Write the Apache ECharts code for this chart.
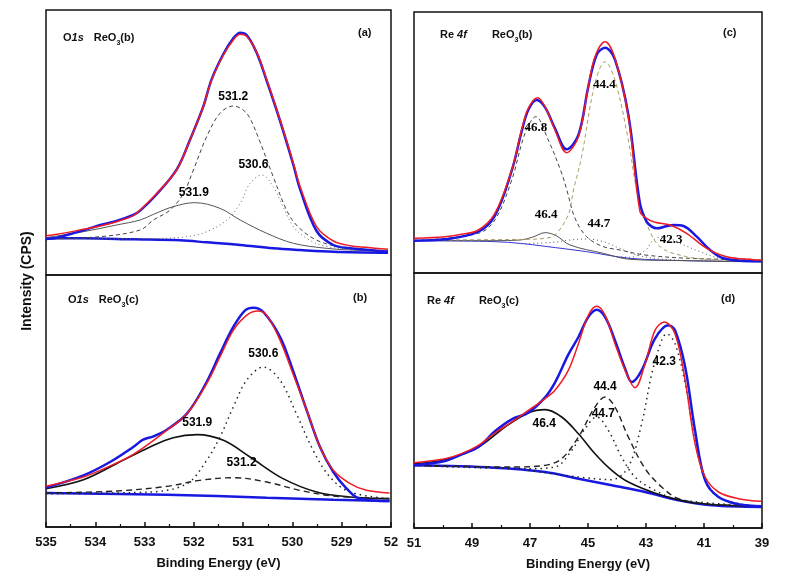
<!DOCTYPE html>
<html><head><meta charset="utf-8">
<script src="https://cdn.jsdelivr.net/npm/echarts@6/dist/echarts.min.js"></script>
<style>html,body{margin:0;padding:0;background:#fff}#c{width:794px;height:588px}</style>
</head><body><div id="c"></div>
<script>
// ---------- tick labels ----------
const oTicks = [535, 534, 533, 532, 531, 530, 529, 528];
const oTickLabels = ['535', '534', '533', '532', '531', '530', '529', '52'];
const reTicks = [51, 49, 47, 45, 43, 41, 39];
const reTickLabels = ['51', '49', '47', '45', '43', '41', '39'];

// ---------- panel (a) O1s ReO3(b)  [binding energy, intensity a.u.] ----------
const aData = [[535,108],[534.78,112],[534.58,120],[534.24,134],[533.9,150],[533.57,162],[533.23,180],[533.09,193],[532.75,243],[532.35,316],[532.08,405],[531.81,505],[531.64,587],[531.4,663],[531.2,710],[531.06,727],[530.93,720],[530.73,668],[530.52,582],[530.25,462],[529.98,330],[529.85,260],[529.51,132],[529.17,90],[528.83,80],[528.5,76],[528.06,70]];
const aFit = [[535,118],[534.78,122],[534.24,137],[533.9,147],[533.57,160],[533.23,178],[533.09,195],[532.75,245],[532.35,315],[532.08,405],[531.81,505],[531.64,585],[531.4,660],[531.2,705],[531.06,722],[530.93,716],[530.73,670],[530.52,585],[530.25,465],[529.98,335],[529.85,268],[529.51,145],[529.17,102],[528.83,88],[528.5,83],[528.06,77]];
const aBase = [[535,110],[534.24,110],[533.23,107],[532.28,104],[531.74,98],[531.06,90],[530.39,80],[529.85,75],[529.17,70],[528.06,67]];
const aP5319 = [[535,112],[534.24,130],[533.57,150],[533.09,165],[532.82,182],[532.42,205],[531.98,217],[531.47,200],[531.06,165],[530.52,125],[529.98,95],[529.31,80],[528.83,75],[528.06,71]];
const aP5312 = [[535,108],[533.9,115],[533.09,135],[532.82,165],[532.48,195],[532.21,245],[532.01,315],[531.74,415],[531.47,485],[531.2,507],[531.0,495],[530.86,470],[530.66,400],[530.39,295],[530.12,195],[529.92,150],[529.58,110],[529.17,88],[528.5,75],[528.06,72]];
const aP5306 = [[535,108],[532.89,109],[532.15,115],[531.74,130],[531.33,165],[531.06,215],[530.86,275],[530.62,300],[530.39,265],[530.19,205],[529.98,145],[529.71,110],[529.38,88],[528.83,77],[528.06,73]];
const aLabels = [['531.2',531.2,535],['530.6',530.79,330],['531.9',532.0,247]];

// ---------- panel (b) O1s ReO3(c) ----------
const bData = [[535,118],[534.24,155],[533.7,195],[533.23,240],[533.03,262],[532.82,272],[532.55,292],[532.14,340],[531.74,435],[531.47,520],[531.2,600],[530.96,650],[530.79,658],[530.59,645],[530.25,570],[529.99,470],[529.71,350],[529.44,240],[529.17,165],[528.9,115],[528.64,85],[528.03,78]];
const bFit = [[535,122],[534.24,150],[533.9,170],[533.23,218],[532.55,290],[532.14,340],[531.74,430],[531.47,510],[531.2,590],[530.93,635],[530.7,648],[530.52,635],[530.25,560],[529.99,460],[529.71,350],[529.44,240],[529.17,170],[528.83,130],[528.5,110],[528.03,102]];
const bBase = [[535,102],[532.55,97],[530.52,88],[529.17,82],[528.03,78]];
const bP5319 = [[535,115],[534.24,142],[533.57,190],[532.89,240],[532.42,268],[531.93,277],[531.4,260],[530.86,210],[530.19,145],[529.51,105],[528.83,90],[528.03,85]];
const bP5312 = [[535,102],[533.57,108],[532.55,122],[531.88,140],[531.2,148],[530.52,135],[529.85,110],[529.17,93],[528.03,85]];
const bP5306 = [[535,100],[532.89,105],[532.14,130],[531.74,200],[531.47,270],[531.2,360],[530.93,440],[530.59,480],[530.25,440],[529.92,340],[529.58,230],[529.24,150],[528.83,105],[528.03,85]];
const bLabels = [['530.6',530.59,520],['531.9',531.93,313],['531.2',531.03,193]];

// ---------- panel (c) Re 4f ReO3(b) ----------
const cData = [[51,97],[49.93,101],[48.78,124],[48.21,172],[47.63,307],[47.29,424],[47.06,489],[46.77,519],[46.48,497],[46.14,434],[45.74,371],[45.33,414],[44.99,559],[44.7,655],[44.41,676],[44.07,640],[43.61,475],[43.21,209],[42.98,154],[42.8,139],[42.63,134],[42.3,140],[42.05,144],[41.71,141],[41.25,109],[40.79,69],[40.33,44],[39.3,35],[39.0,35]];
const cFit = [[51,104],[49.93,109],[49.36,116],[48.78,129],[48.21,179],[47.63,309],[47.29,429],[47.06,494],[46.74,526],[46.48,499],[46.14,429],[45.74,361],[45.33,409],[44.99,559],[44.76,649],[44.41,694],[44.07,644],[43.61,469],[43.21,185],[42.98,164],[42.69,152],[42.17,144],[41.6,119],[40.91,74],[40.22,49],[39.3,40],[39.0,39]];
const cBase = [[51,97],[49.36,96],[48.21,94],[47.34,89],[46.48,80],[45.05,64],[43.55,44],[41.6,37],[39.3,34],[39,34]];
const cP468 = [[51,97],[48.78,119],[48.21,159],[47.63,279],[47.17,419],[46.8,469],[46.37,399],[45.91,300],[45.73,249],[45.45,165],[45.05,109],[44.5,80],[43.9,69],[43.03,54],[41.5,44],[39,39]];
const cP444 = [[51,99],[47.06,101],[46.5,104],[46.14,114],[45.68,175],[45.5,249],[45.22,349],[44.76,569],[44.41,634],[44.07,579],[43.61,399],[43.32,249],[42.98,149],[42.52,79],[41.6,49],[40.45,39],[39,37]];
const cP464 = [[51,97],[48.21,97],[47.34,99],[46.9,108],[46.48,121],[46.1,112],[45.62,84],[44.47,59],[43.55,41],[41.6,37],[39,34]];
const cP447 = [[47.3,88],[46.2,92],[45.62,99],[45.05,102],[44.47,94],[43.9,74],[43.32,54],[42.5,42],[41,36],[39,34]];
const cP423 = [[44.0,50],[43.55,47],[43.0,70],[42.75,99],[42.4,109],[41.83,89],[41.14,64],[40.45,44],[39.5,37],[39,36]];
const cLabels = [['44.4',44.43,566],['46.8',46.8,436],['46.4',46.44,174],['44.7',44.62,149],['42.3',42.13,99]];

// ---------- panel (d) Re 4f ReO3(c) ----------
const dData = [[51,188],[49.93,201],[49.36,221],[48.78,243],[48.21,290],[47.63,326],[47.06,346],[46.48,392],[46.14,436],[45.68,520],[45.33,573],[44.99,633],[44.7,655],[44.41,633],[44.07,563],[43.72,478],[43.49,438],[43.15,473],[42.69,568],[42.23,608],[42.0,593],[41.65,483],[41.31,293],[40.96,143],[40.5,93],[39.81,71],[39.01,65]];
const dFit = [[51,196],[49.93,208],[49.36,223],[48.78,248],[48.21,285],[47.63,318],[47.06,353],[46.48,388],[46.14,413],[45.68,473],[45.33,553],[44.99,638],[44.7,665],[44.41,638],[44.07,553],[43.72,473],[43.38,421],[43.03,493],[42.69,593],[42.37,618],[42.0,583],[41.65,443],[41.31,253],[40.96,153],[40.5,108],[39.81,88],[39.01,80]];
const dBase = [[51,188],[48.21,181],[46.48,168],[45.33,148],[44.18,128],[43.03,108],[41.88,83],[40.74,68],[39,63]];
const dP464 = [[51,193],[49.93,205],[48.78,243],[47.86,303],[47.06,345],[46.48,355],[45.91,333],[45.33,283],[44.76,223],[44.18,173],[43.61,138],[42.46,98],[41.31,75],[39,65]];
const dP444 = [[51,188],[47.63,183],[46.48,188],[45.91,208],[45.33,273],[44.76,363],[44.41,393],[44.07,363],[43.61,273],[43.03,178],[42.46,123],[41.88,88],[40.74,71],[39,65]];
const dP447 = [[51,188],[47.06,178],[46.14,183],[45.56,233],[45.1,298],[44.7,333],[44.3,293],[43.84,213],[43.38,153],[42.69,113],[41.88,85],[39,65]];
const dP423 = [[47.06,173],[45.33,153],[44.18,145],[43.61,183],[43.15,313],[42.8,463],[42.46,563],[42.29,583],[42.0,553],[41.65,433],[41.31,263],[40.96,143],[40.5,93],[39.81,73],[39,65]];
const dLabels = [['44.4',44.41,423],['44.7',44.47,343],['42.3',42.37,498],['46.4',46.51,313]];

// ---------- chart ----------
const RED = '#ee1c25', BLUE = '#1818e0';
const SANS = 'Liberation Sans, Arial, sans-serif';
const SERIF = 'Liberation Serif, Times New Roman, serif';

function line(idx, data, color, width, type, z) {
  return { type: 'line', xAxisIndex: idx, yAxisIndex: idx, data: data, smooth: 0.35,
    showSymbol: false, silent: true, z: z || 2,
    lineStyle: { color: color, width: width, type: type || 'solid' } };
}
function labels(idx, arr, font, size) {
  return { type: 'scatter', xAxisIndex: idx, yAxisIndex: idx, symbolSize: 0.1, silent: true, z: 10,
    itemStyle: { color: '#fff', opacity: 1 },
    data: arr.map(l => ({ name: l[0], value: [l[1], l[2]] })),
    label: { show: true, position: [0, 0], align: 'center', verticalAlign: 'middle', formatter: '{b}',
      color: '#000', textBorderWidth: 0, opacity: 1,
      fontWeight: 'bold', fontFamily: font, fontSize: size } };
}

const grids = [
  { left: 46, top: 10, width: 345, height: 265 },
  { left: 46, top: 275, width: 345, height: 252 },
  { left: 414, top: 12, width: 348, height: 261 },
  { left: 414, top: 273, width: 348, height: 255 }
].map(g => Object.assign(g, { show: true, borderColor: '#111', borderWidth: 1.5, backgroundColor: 'transparent' }));

function hiddenX(gi, min, max) {
  return { type: 'value', gridIndex: gi, min: min, max: max, inverse: true,
    axisLine: { show: false }, axisTick: { show: false }, axisLabel: { show: false }, splitLine: { show: false } };
}
function shownX(gi, min, max, interval, ticks, tickLabels) {
  return { type: 'value', gridIndex: gi, min: min, max: max, interval: interval, inverse: true,
    name: 'Binding Energy (eV)', nameLocation: 'middle', nameGap: 30,
    nameTextStyle: { fontFamily: SANS, fontWeight: 'bold', fontSize: 13, color: '#111' },
    axisLine: { show: true, onZero: false, lineStyle: { color: '#111', width: 1.5 } },
    axisTick: { show: true, inside: true, length: 5, lineStyle: { color: '#111', width: 1.5 } },
    minorTick: { show: true, splitNumber: 2, length: 3, lineStyle: { color: '#111', width: 1.2 } },
    axisLabel: { margin: 9, fontFamily: SANS, fontWeight: 'bold', fontSize: 13, color: '#111',
      formatter: v => { const i = ticks.indexOf(Math.round(v)); return i >= 0 ? tickLabels[i] : ''; } },
    splitLine: { show: false } };
}
function yAx(gi, max) {
  return { type: 'value', gridIndex: gi, min: 0, max: max, show: false, splitLine: { show: false } };
}

const titleRich = {
  b: { fontFamily: SANS, fontWeight: 'bold', fontSize: 11, color: '#111', lineHeight: 14 },
  bi: { fontFamily: SANS, fontWeight: 'bold', fontStyle: 'italic', fontSize: 11, color: '#111', lineHeight: 14 },
  s: { fontFamily: SANS, fontWeight: 'bold', fontSize: 7, color: '#111', lineHeight: 14, verticalAlign: 'bottom', padding: [7, 0, 0, 0] }
};
function ttl(text, left, top) {
  return { text: text, left: left, top: top, padding: 0, textStyle: { rich: titleRich } };
}

const chart = echarts.init(document.getElementById('c'), null, { renderer: 'canvas' });
chart.setOption({
  animation: false,
  backgroundColor: '#fff',
  title: [
    ttl('{b|O}{bi|1s}  {b|ReO}{s|3}{b|(b)}', 63, 29),
    ttl('{b|(a)}', 358, 26),
    ttl('{b|O}{bi|1s}  {b|ReO}{s|3}{b|(c)}', 68, 291),
    ttl('{b|(b)}', 353, 291),
    ttl('{b|Re }{bi|4f}     {b|ReO}{s|3}{b|(b)}', 440, 26),
    ttl('{b|(c)}', 723, 26),
    ttl('{b|Re }{bi|4f}     {b|ReO}{s|3}{b|(c)}', 427, 292),
    ttl('{b|(d)}', 721, 292)
  ],
  graphic: [{
    type: 'text', x: 27, y: 281, rotation: Math.PI / 2,
    style: { text: 'Intensity (CPS)', fontFamily: SANS, fontWeight: 'bold', fontSize: 14, fill: '#111',
      align: 'center', verticalAlign: 'middle' }
  }],
  grid: grids,
  xAxis: [
    hiddenX(0, 528, 535),
    shownX(1, 528, 535, 1, oTicks, oTickLabels),
    hiddenX(2, 39, 51),
    shownX(3, 39, 51, 2, reTicks, reTickLabels)
  ],
  yAxis: [yAx(0, 795), yAx(1, 756), yAx(2, 783), yAx(3, 765)],
  series: [
    // (a)
    line(0, aBase, BLUE, 2.5),
    line(0, aP5319, '#555', 1),
    line(0, aP5312, '#444', 1, [4, 3]),
    line(0, aP5306, '#666', 1, [1, 3]),
    line(0, aData, BLUE, 2.5, 'solid', 3),
    line(0, aFit, RED, 1.5, 'solid', 4),
    labels(0, aLabels, SANS, 12),
    // (b)
    line(1, bBase, BLUE, 2.5),
    line(1, bP5319, '#111', 1.6),
    line(1, bP5312, '#222', 1.4, [6, 4]),
    line(1, bP5306, '#222', 1.5, [1.5, 4]),
    line(1, bData, BLUE, 2.5, 'solid', 3),
    line(1, bFit, RED, 1.5, 'solid', 4),
    labels(1, bLabels, SANS, 12),
    // (c)
    line(2, cBase, '#3535d8', 1),
    line(2, cP464, '#555', 1),
    line(2, cP468, '#444', 1, [4, 3]),
    line(2, cP444, '#aa9d60', 1, [4, 3]),
    line(2, cP447, '#555', 1, [1, 3]),
    line(2, cP423, '#555', 1, [1, 3]),
    line(2, cData, BLUE, 2.5, 'solid', 3),
    line(2, cFit, RED, 1.5, 'solid', 4),
    labels(2, cLabels, SERIF, 13),
    // (d)
    line(3, dBase, BLUE, 2.5),
    line(3, dP464, '#111', 1.6),
    line(3, dP444, '#222', 1.4, [6, 4]),
    line(3, dP447, '#222', 1.5, [1.5, 4]),
    line(3, dP423, '#222', 1.5, [1.5, 4]),
    line(3, dData, BLUE, 2.5, 'solid', 3),
    line(3, dFit, RED, 1.5, 'solid', 4),
    labels(3, dLabels, SANS, 12)
  ]
});
</script></body></html>
